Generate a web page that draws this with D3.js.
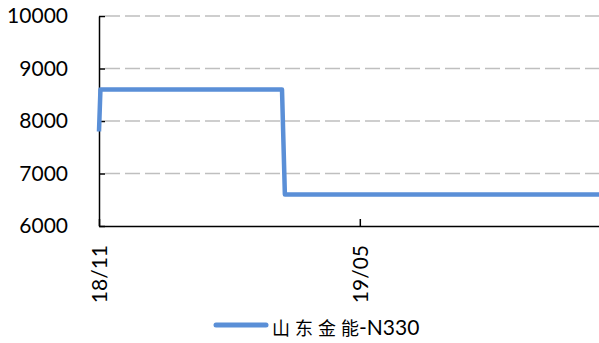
<!DOCTYPE html>
<html>
<head>
<meta charset="utf-8">
<script src="https://cdn.jsdelivr.net/npm/d3@7"></script>
<style>
  body { margin: 0; background: #fff; }
  text { font-family: Lato, "Noto Sans", sans-serif; fill: #000; }
</style>
</head>
<body>
<svg id="chart" width="599" height="343"></svg>
<script>
// Chart values

const seriesName = "山东金能-N330";
const dates = ["2018-11-01", "2018-11-02", "2019-03-08", "2019-03-10", "2019-10-14"];
const prices = [7800, 8600, 8600, 6600, 6600];
const yTicks = [6000, 7000, 8000, 9000, 10000];
const xTicks = ["2018-11-01", "2019-05-01"];

const parse = d3.timeParse("%Y-%m-%d");
const data = dates.map((d, i) => ({ date: parse(d), value: prices[i] }));

// Layout

const margin = { top: 16, left: 99, right: 0, bottom: 117 };
const width = 599;
const height = 343;
const lineColor = "#5A8FD7";
const labelFont = "Lato, 'Noto Sans', sans-serif";

const svg = d3.select("#chart");

const x = d3.scaleTime()
  .domain([parse("2018-11-01"), parse("2019-10-14")])
  .range([margin.left, width - margin.right]);

const y = d3.scaleLinear()
  .domain([6000, 10000])
  .range([226, margin.top]);

// Dashed gridlines

svg.append("g")
  .selectAll("line")
  .data(yTicks.slice(1))
  .enter()
  .append("line")
  .attr("x1", margin.left + 6)
  .attr("x2", width)
  .attr("y1", d => y(d))
  .attr("y2", d => y(d))
  .attr("stroke", "#BFBFBF")
  .attr("stroke-width", 1.6)
  .attr("stroke-dasharray", "15,5");

// Y axis

const yAxis = svg.append("g")
  .attr("transform", "translate(" + margin.left + ",0)")
  .call(d3.axisLeft(y)
    .tickValues(yTicks)
    .tickFormat(d3.format("d"))
    .tickSize(-6)
    .tickPadding(31)
    .tickSizeOuter(0));

yAxis.select(".domain").attr("stroke", "#000").attr("stroke-width", 1.5);
yAxis.selectAll(".tick line").attr("stroke", "#000").attr("stroke-width", 1.5);
yAxis.selectAll(".tick text")
  .style("font-size", "21px")
  .style("font-family", labelFont)
  .attr("fill", "#000");

// X axis

const xAxis = svg.append("g")
  .attr("transform", "translate(0," + y(6000) + ")")
  .call(d3.axisBottom(x)
    .tickValues(xTicks.map(parse))
    .tickFormat(d3.timeFormat("%y/%m"))
    .tickSize(-7)
    .tickSizeOuter(0));

xAxis.select(".domain").attr("stroke", "#000").attr("stroke-width", 1.5);
xAxis.selectAll(".tick line").attr("stroke", "#000").attr("stroke-width", 1.5);
xAxis.selectAll(".tick text")
  .style("font-size", "21px")
  .style("font-family", labelFont)
  .attr("fill", "#000")
  .attr("transform", "rotate(-90)")
  .attr("x", -19)
  .attr("y", 0)
  .attr("dy", "0.35em")
  .style("text-anchor", "end");

// Series line

const line = d3.line()
  .x(d => x(d.date))
  .y(d => y(d.value));

svg.append("path")
  .datum(data)
  .attr("d", line)
  .attr("fill", "none")
  .attr("stroke", lineColor)
  .attr("stroke-width", 4.5)
  .attr("stroke-linejoin", "round");

// Legend

const legend = svg.append("g");

legend.append("line")
  .attr("x1", 216)
  .attr("x2", 266)
  .attr("y1", 325)
  .attr("y2", 325)
  .attr("stroke", lineColor)
  .attr("stroke-width", 5)
  .attr("stroke-linecap", "round");

const legendText = legend.append("text")
  .attr("x", 272)
  .attr("y", 335);

legendText.append("tspan")
  .style("font-family", "'Noto Sans CJK SC', sans-serif")
  .style("font-size", "18px")
  .style("letter-spacing", "5px")
  .text(seriesName.slice(0, 3));

legendText.append("tspan")
  .style("font-family", "'Noto Sans CJK SC', sans-serif")
  .style("font-size", "18px")
  .text(seriesName.slice(3, 4));

legendText.append("tspan")
  .style("font-size", "21px")
  .text(seriesName.slice(4));
</script>
</body>
</html>
